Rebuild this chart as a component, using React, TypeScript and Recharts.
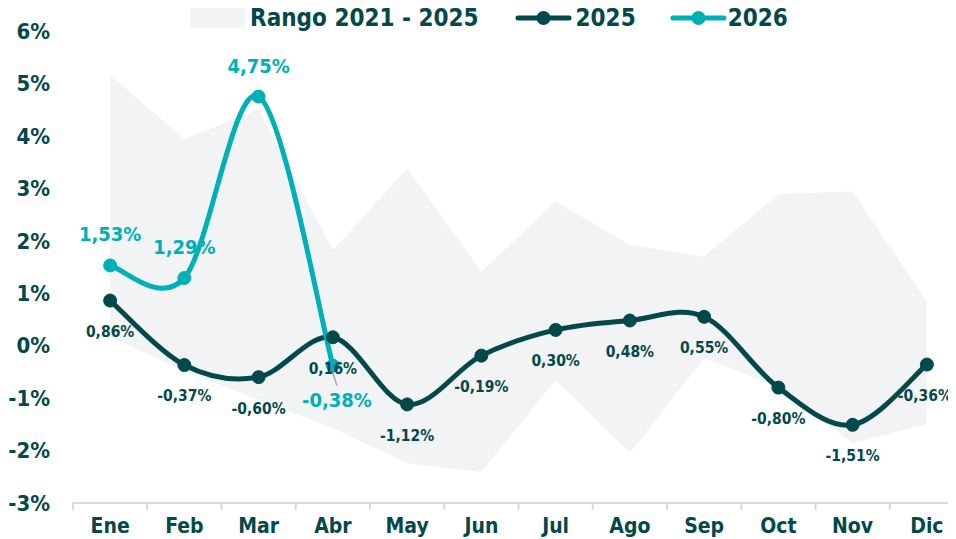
import { ComposedChart, Area, Line, XAxis, YAxis, LabelList } from 'recharts';

const months = ['Ene', 'Feb', 'Mar', 'Abr', 'May', 'Jun', 'Jul', 'Ago', 'Sep', 'Oct', 'Nov', 'Dic'];
const rangeLow = [0.17, -0.49, -1.03, -1.57, -2.24, -2.41, -0.66, -2.05, -0.24, -0.78, -1.86, -1.49];
const rangeHigh = [5.16, 3.94, 4.5, 1.82, 3.38, 1.41, 2.75, 1.92, 1.7, 2.89, 2.94, 0.84];
const values2025 = [0.86, -0.37, -0.6, 0.16, -1.12, -0.19, 0.3, 0.48, 0.55, -0.8, -1.51, -0.36];
const values2026 = [1.53, 1.29, 4.75, -0.38];
const yTicks = [-3, -2, -1, 0, 1, 2, 3, 4, 5, 6];

const data = months.map((m, i) => ({
  month: m,
  range: [rangeLow[i], rangeHigh[i]],
  y2025: values2025[i],
  y2026: i < values2026.length ? values2026[i] : null,
}));

const DARK = '#03484a';
const CYAN = '#00b0b9';
const BAND = '#f2f3f5';
const FONT = '"DejaVu Sans Condensed", "DejaVu Sans", sans-serif';

const W = 960;
const H = 531;
const Y_AXIS_W = 65;
const RIGHT = 4;
const BW = (W - Y_AXIS_W - RIGHT) / months.length;

const fmt = (v: number) => v.toFixed(2).replace('.', ',') + '%';

// Excel-like smoothed line (catmull-rom style bezier)
const smoothCurve = (context: any) => {
  let pts: number[][] = [];
  return {
    areaStart() {},
    areaEnd() {},
    lineStart() {
      pts = [];
    },
    point(x: number, y: number) {
      pts.push([+x, +y]);
    },
    lineEnd() {
      if (!pts.length) return;
      context.moveTo(pts[0][0], pts[0][1]);
      for (let i = 0; i < pts.length - 1; i++) {
        const p0 = pts[i - 1] || pts[i];
        const p1 = pts[i];
        const p2 = pts[i + 1];
        const p3 = pts[i + 2] || p2;
        context.bezierCurveTo(
          p1[0] + (p2[0] - p0[0]) / 6,
          p1[1] + (p2[1] - p0[1]) / 6,
          p2[0] - (p3[0] - p1[0]) / 6,
          p2[1] - (p3[1] - p1[1]) / 6,
          p2[0],
          p2[1]
        );
      }
    },
  };
};

function MonthTick({ x, y, payload }: any) {
  return (
    <g>
      <line x1={x - BW / 2} y1={y} x2={x - BW / 2} y2={y + 7} stroke="#d9d9d9" strokeWidth={2} />
      <text x={x} y={y + 30} textAnchor="middle" fill={DARK} fontSize={21} fontWeight="bold" fontFamily={FONT}>
        {payload.value}
      </text>
    </g>
  );
}

function Label2025({ x, y, value, index }: any) {
  if (value == null) return null;
  // last label sits against the right edge, nudge it in a bit
  const dx = index === months.length - 1 ? -2 : 0;
  return (
    <text x={x + dx} y={y + 31} dy="0.35em" textAnchor="middle" fill={DARK} fontSize={15.5} fontWeight="bold" fontFamily={FONT}>
      {fmt(value)}
    </text>
  );
}

function Label2026({ x, y, value }: any) {
  if (value == null) return null;
  const below = value < 0;
  return (
    <g>
      {below && <line x1={x} y1={y + 7} x2={x + 4} y2={y + 20} stroke="#a6a6a6" strokeWidth={1.5} />}
      <text
        x={x + (below ? 4 : 0)}
        y={below ? y + 34 : y - 31}
        dy="0.35em"
        textAnchor="middle"
        fill={CYAN}
        fontSize={20}
        fontWeight="bold"
        fontFamily={FONT}
      >
        {fmt(value)}
      </text>
    </g>
  );
}

function LegendLine({ color }: { color: string }) {
  return (
    <svg width={57} height={20} style={{ display: 'block' }}>
      <line x1={3} y1={10} x2={54} y2={10} stroke={color} strokeWidth={5} strokeLinecap="round" />
      <circle cx={28.5} cy={10} r={7} fill={color} />
    </svg>
  );
}

export default function App() {
  const textStyle = { color: DARK, fontSize: 24, fontWeight: 'bold' as const, fontFamily: FONT, lineHeight: '24px' };
  return (
    <div style={{ position: 'relative', width: W, height: H }}>
      <ComposedChart width={W} height={H} data={data} margin={{ top: 23, right: RIGHT, bottom: 0, left: 0 }}>
        <XAxis
          dataKey="month"
          height={36}
          padding={{ left: BW / 2, right: BW / 2 }}
          tickLine={false}
          tickSize={0}
          tickMargin={0}
          axisLine={{ stroke: '#d9d9d9', strokeWidth: 2 }}
          tick={<MonthTick />}
          interval={0}
        />
        <YAxis
          width={Y_AXIS_W}
          domain={[-3, 6]}
          ticks={yTicks}
          axisLine={false}
          tickLine={false}
          tickMargin={17}
          tickFormatter={(v: number) => `${v}%`}
          tick={{ fill: DARK, fontSize: 22, fontWeight: 'bold', fontFamily: FONT }}
        />
        <Area dataKey="range" type="linear" fill={BAND} fillOpacity={1} stroke="none" isAnimationActive={false} activeDot={false} />
        <Line
          dataKey="y2025"
          type={smoothCurve as any}
          stroke={DARK}
          strokeWidth={5}
          dot={{ r: 6.5, fill: DARK, stroke: DARK, strokeWidth: 1 }}
          activeDot={false}
          isAnimationActive={false}
        >
          <LabelList dataKey="y2025" content={<Label2025 />} />
        </Line>
        <Line
          dataKey="y2026"
          type={smoothCurve as any}
          stroke={CYAN}
          strokeWidth={5}
          dot={{ r: 6.5, fill: CYAN, stroke: CYAN, strokeWidth: 1 }}
          activeDot={false}
          isAnimationActive={false}
        >
          <LabelList dataKey="y2026" content={<Label2026 />} />
        </Line>
      </ComposedChart>
      <div style={{ position: 'absolute', top: -2, left: 182, display: 'flex', alignItems: 'center' }}>
        <div style={{ width: 55, height: 20, background: BAND, borderRadius: 2, marginRight: 5 }} />
        <span style={textStyle}>Rango 2021 - 2025</span>
        <div style={{ width: 36 }} />
        <LegendLine color={DARK} />
        <span style={{ ...textStyle, marginLeft: 4 }}>2025</span>
        <div style={{ width: 34 }} />
        <LegendLine color={CYAN} />
        <span style={{ ...textStyle, marginLeft: 1 }}>2026</span>
      </div>
    </div>
  );
}
